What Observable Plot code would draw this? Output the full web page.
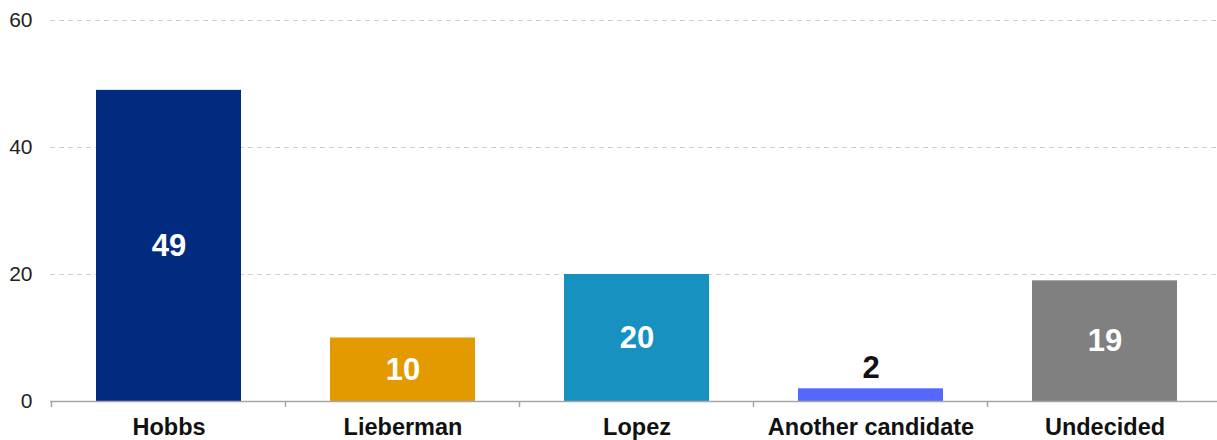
<!DOCTYPE html>
<html><head><meta charset="utf-8">
<script src="https://cdn.jsdelivr.net/npm/d3@7"></script>
<script src="https://cdn.jsdelivr.net/npm/@observablehq/plot@0.6"></script>
<style>body{margin:0;background:#fff;font-family:"Liberation Sans",Arial,sans-serif}</style>
</head><body><div id="chart"></div>
<script>
const categories = ["Hobbs","Lieberman","Lopez","Another candidate","Undecided"];
const values = [49,10,20,2,19];
const colors = ["#012b7f","#e39a00","#1791bf","#5468ff","#808080"];
const yTicks = [0,20,40,60];

const data = categories.map((c,i)=>({cat:c, value:values[i], color:colors[i]}));
const inside = data.filter(d=>d.value>=5);
const outside = data.filter(d=>d.value<5);

const chart = Plot.plot({
  width:1217, height:440,
  marginLeft:50, marginRight:0, marginTop:20, marginBottom:39,
  style:{fontFamily:"'Liberation Sans', Arial, sans-serif", background:"#fff"},
  x:{domain:categories, range:[50,1224], paddingInner:0.38, paddingOuter:0.19, label:null},
  y:{domain:[0,60], label:null},
  marks:[
    Plot.gridY(yTicks,{stroke:"#cfcfcf", strokeOpacity:1, strokeDasharray:"5,4"}),
    Plot.axisY(yTicks,{tickSize:0, tickPadding:18, fontSize:21, fill:"#222", label:null}),
    Plot.barY(data,{x:"cat", y:"value", fill:"color"}),
    Plot.ruleY([0],{stroke:"#a6a6a6", strokeWidth:1.5}),
    Plot.axisX({tickSize:0, tickPadding:17, fontSize:23.5, fontWeight:"bold", fill:"#111", label:null}),
    Plot.text(inside,{x:"cat", y:d=>d.value/2, text:d=>String(d.value), fill:"#fff", fontSize:31, fontWeight:"bold"}),
    Plot.text(outside,{x:"cat", y:"value", text:d=>String(d.value), fill:"#111", fontSize:31, fontWeight:"bold", dy:-21})
  ]
});
document.getElementById("chart").appendChild(chart);

// band-boundary ticks on the baseline, positioned from the x scale
const xs = chart.scale("x"), ys = chart.scale("y");
const svg = d3.select(chart);
const y0 = ys.apply(0);
const bounds = categories.map(c=>xs.apply(c) - (xs.step - xs.bandwidth)/2);
svg.append("g").selectAll("line").data(bounds).join("line")
  .attr("x1",d=>d).attr("x2",d=>d).attr("y1",y0).attr("y2",y0+6)
  .attr("stroke","#a6a6a6").attr("stroke-width",1.5);
</script></body></html>
